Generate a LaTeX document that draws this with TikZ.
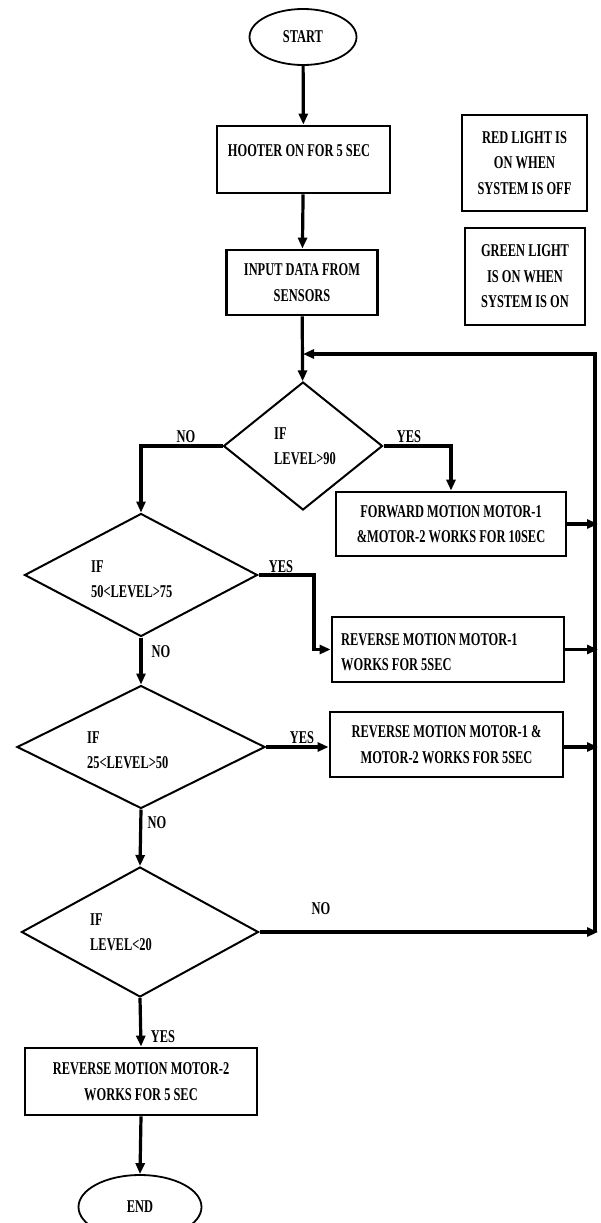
\documentclass[tikz,border=0pt]{standalone}
\usepackage{fontspec}
\newfontfamily\cf[FakeStretch=0.69]{Liberation Serif}
\usetikzlibrary{shapes.geometric,arrows.meta}
\begin{document}
\begin{tikzpicture}[x=1pt,y=-1pt,
  txt/.style={font=\cf\bfseries\fontsize{18}{25.5}\selectfont, inner sep=0pt, align=center},
  box/.style={draw, line width=2.8pt, inner sep=0pt, txt},
  dia/.style={diamond, draw, line width=2pt, inner sep=0pt},
  oval/.style={ellipse, draw, line width=1.8pt, inner sep=0pt, txt},
  conn/.style={line width=3.2pt, -{Triangle[length=11pt,width=9pt]}},
  lbl/.style={txt}]
\useasboundingbox (0,0) rectangle (600,1223);
% terminals and boxes
\node[oval, minimum width=107pt, minimum height=56pt] (start) at (303,37) {START};
\node[box, minimum width=173pt, minimum height=67pt] (hooter) at (303.5,159.5) {};
\node[txt] (hooterT) at (299,151) {HOOTER ON FOR 5 SEC};
\node[box, minimum width=151pt, minimum height=65pt] (input) at (302,282.5) {INPUT DATA FROM\\SENSORS};
\node[box, minimum width=125pt, minimum height=96pt] (red) at (524.5,163) {RED LIGHT IS\\ON WHEN\\SYSTEM IS OFF};
\node[box, minimum width=120pt, minimum height=97pt] (green) at (525,276.5) {GREEN LIGHT\\IS ON WHEN\\SYSTEM IS ON};
% decisions
\node[dia, minimum width=159pt, minimum height=128pt] (d1) at (303,446) {};
\node[txt, anchor=west, align=left] (d1T) at (274,446) {IF\\LEVEL>90};
\node[dia, minimum width=233pt, minimum height=123pt] (d2) at (141,575) {};
\node[txt, anchor=west, align=left] (d2T) at (91,579) {IF\\50<LEVEL>75};
\node[dia, minimum width=248pt, minimum height=123pt] (d3) at (141,747) {};
\node[txt, anchor=west, align=left] (d3T) at (87,750) {IF\\25<LEVEL>50};
\node[dia, minimum width=237pt, minimum height=130pt] (d4) at (140,932) {};
\node[txt, anchor=west, align=left] (d4T) at (90,932) {IF\\LEVEL<20};
% action boxes
\node[box, minimum width=230pt, minimum height=64pt] (b1) at (451,524) {FORWARD MOTION MOTOR-1\\\&MOTOR-2 WORKS FOR 10SEC};
\node[box, minimum width=232pt, minimum height=65pt] (b2) at (448,649.5) {};
\node[txt, anchor=west, align=left] (b2T) at (341,652) {REVERSE MOTION MOTOR-1\\WORKS FOR 5SEC};
\node[box, minimum width=233pt, minimum height=65pt] (b3) at (446.5,744.5) {REVERSE MOTION MOTOR-1 \&\\MOTOR-2 WORKS FOR 5SEC};
\node[box, minimum width=232pt, minimum height=67pt] (b4) at (141,1081.5) {REVERSE MOTION MOTOR-2\\WORKS FOR 5 SEC};
\node[oval, minimum width=123pt, minimum height=64pt] (end) at (140,1207) {END};
% helper coordinates
\coordinate (join) at (303,354);
\coordinate (rtop) at (595,354);
\coordinate (rbot) at (595,932);
\coordinate (rtip) at (598,932);
\coordinate (yes2) at (314,575);
% connectors
\draw[conn] (start) -- (hooter);
\draw[conn] (hooter) -- (input);
\draw[conn] (input) -- (d1);
\draw[conn] (rbot) -- (rtop) -- (join);
\draw[conn] (d1.west) -| (d2.north);
\draw[conn] (d1.east) -| (b1.north);
\draw[conn] (b1.east) -- (b1.east -| rtip);
\draw[conn] (d2.east) -- (yes2) |- (b2.west);
\draw[conn] (b2.east) -- (b2.east -| rtip);
\draw[conn] (d2.south) -- (d3.north);
\draw[conn] (d3.east) -- (d3.east -| b3.west);
\draw[conn] (b3.east |- d3.east) -- (d3.east -| rtip);
\draw[conn] (d3.south) -- (d4.north);
\draw[conn] (d4.east) -- (rtip);
\draw[conn] (d4.south) -- (b4.north);
\draw[conn] (b4.south) -- (end.north);
% labels
\node[lbl] (n1) at (186,437) {NO};
\node[lbl] (y1) at (409,437) {YES};
\node[lbl] (y2) at (281,567) {YES};
\node[lbl] (n2) at (161,652) {NO};
\node[lbl] (y3) at (302,738) {YES};
\node[lbl] (n3) at (157,823) {NO};
\node[lbl] (n4) at (321,909) {NO};
\node[lbl] (y4) at (163,1037) {YES};
\end{tikzpicture}
\end{document}
